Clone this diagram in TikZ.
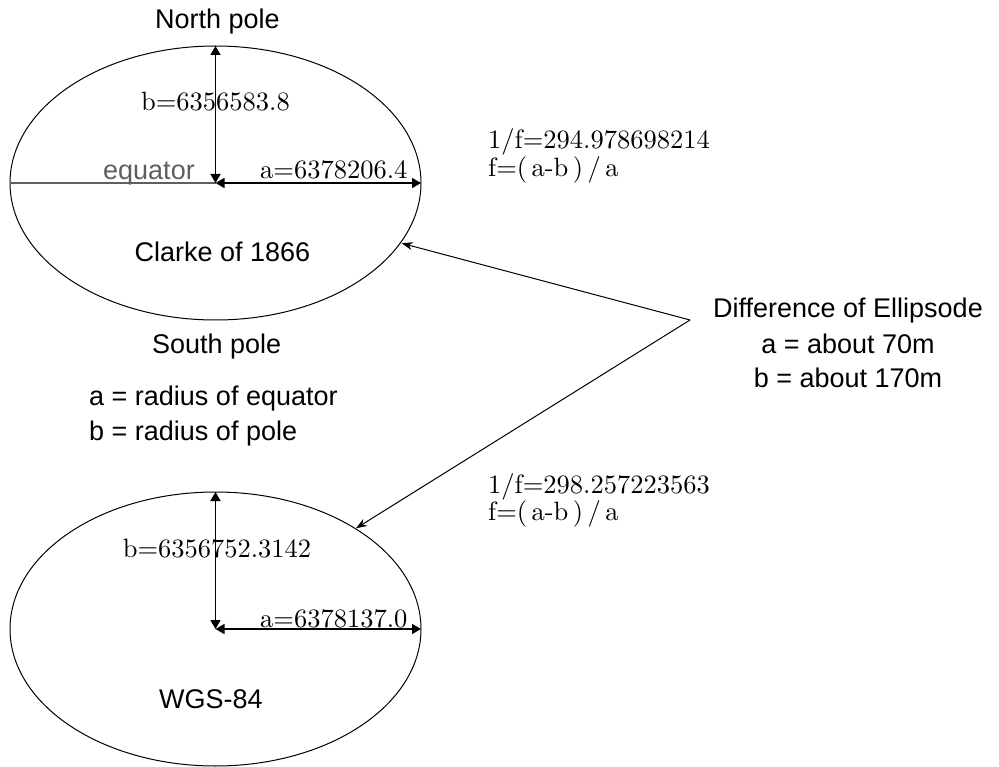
\documentclass[tikz,border=0pt]{standalone}
\usepackage{fontspec}
\setsansfont{Liberation Sans}
\newfontfamily\lmten[Extension=.otf]{lmroman10-regular}
\usetikzlibrary{arrows.meta,shapes.geometric}
\definecolor{eqgray}{RGB}{95,95,95}
\begin{document}
\begin{tikzpicture}[x=1pt,y=-1pt,
  sanslbl/.style={font=\sffamily\fontsize{27}{35}\selectfont, inner sep=0pt},
  seriflbl/.style={font=\lmten\fontsize{26.5}{28}\selectfont, inner sep=0pt},
  earth/.style={draw, ellipse, minimum width=411pt, minimum height=274pt, inner sep=0pt, outer sep=0pt, line width=1pt},
  radius/.style={line width=1.5pt, {Triangle[length=9pt,width=10pt]}-{Triangle[length=9pt,width=10pt]}},
  diffarrow/.style={line width=1pt, -{Stealth[length=11pt,width=8pt]}},
]
\useasboundingbox (0,0) rectangle (999,767);

% ellipsoids
\node[earth] (clarke) at (215.5,183) {};
\node[earth] (wgs) at (215.5,629) {};

% Clarke axes
\draw[eqgray, line width=1.5pt] (clarke.west) -- (clarke.center);
\draw[radius] (clarke.center) -- (clarke.north);
\draw[radius] (clarke.center) -- (clarke.east);

% WGS axes
\draw[radius] (wgs.center) -- (wgs.north);
\draw[radius] (wgs.center) -- (wgs.east);

% labels, top
\node[sanslbl, anchor=base] (np) at (217.5,29) {North pole};
\node[seriflbl, anchor=base] (bc) at (215.5,111) {b=6356583.8};
\node[seriflbl, anchor=base west] (ac) at (260,179) {a=6378206.4};
\node[sanslbl, text=eqgray, anchor=base west] (eq) at (103,180) {equator};
\node[sanslbl, anchor=base] (cl) at (222.5,262) {Clarke of 1866};
\node[sanslbl, anchor=base] (sp) at (216.7,354) {South pole};
\node[sanslbl, anchor=base west] (ra) at (89,406) {a = radius of equator};
\node[sanslbl, anchor=base west] (rb) at (89,440) {b = radius of pole};

% flattening
\node[seriflbl, anchor=base west] (f1) at (488,149) {1/f=294.978698214};
\node[seriflbl, anchor=base west] (f1b) at (488,177) {f=(\,a-b\,)\,/\,a};
\node[seriflbl, anchor=base west] (f2) at (488,493) {1/f=298.257223563};
\node[seriflbl, anchor=base west] (f2b) at (488,520) {f=(\,a-b\,)\,/\,a};

% difference
\node[sanslbl, anchor=base] (d1) at (848,318) {Difference of Ellipsode};
\node[sanslbl, anchor=base] (d2) at (848,353) {a = about 70m};
\node[sanslbl, anchor=base] (d3) at (848,388) {b = about 170m};

% labels, bottom
\node[seriflbl, anchor=base] (bw) at (217,557) {b=6356752.3142};
\node[seriflbl, anchor=base west] (aw) at (260,627) {a=6378137.0};
\node[sanslbl, anchor=base] (wl) at (211,708) {WGS-84};

% connectors
\coordinate (tip) at (690,320);
\coordinate (hitc) at (401.7,243.3);
\coordinate (hitw) at (356,528.3);
\draw[diffarrow] (tip) -- (hitc);
\draw[diffarrow] (tip) -- (hitw);
\end{tikzpicture}
\end{document}
